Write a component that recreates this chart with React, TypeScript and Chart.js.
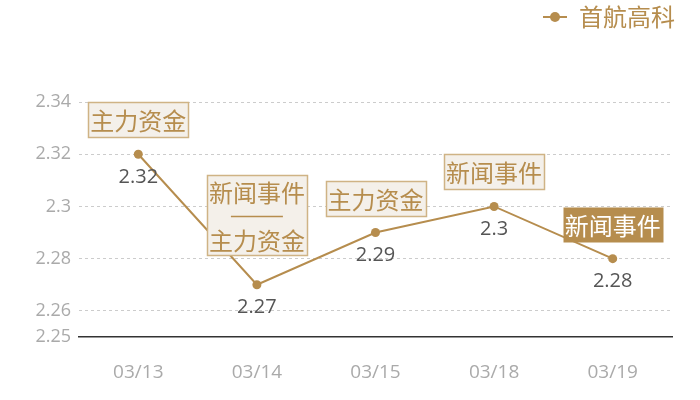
import React, { useEffect, useRef } from "react";
import { Chart, registerables } from "chart.js";

Chart.register(...registerables);

const categories = ["03/13", "03/14", "03/15", "03/18", "03/19"];
const seriesName = "首航高科";
const values = [2.32, 2.27, 2.29, 2.3, 2.28];
const eventLabels: string[][] = [
  ["主力资金"],
  ["新闻事件", "主力资金"],
  ["主力资金"],
  ["新闻事件"],
  ["新闻事件"],
];
const highlighted = [false, false, false, false, true];
const yTicks = [2.25, 2.26, 2.28, 2.3, 2.32, 2.34];

const GOLD = "#b68d4e";
const BOX_FILL = "#f4f0ea";
const BOX_BORDER = "#cfb385";
const NUM_FONT = '"Open Sans", "Noto Sans CJK SC", sans-serif';
const CJK_FONT = '"Noto Sans CJK SC", "Open Sans", sans-serif';
const LEGEND_MARK_W = 24;

const legendSpacer = {
  id: "legendSpacer",
  beforeInit(chart: any) {
    const legend = chart.legend;
    if (!legend) return;
    const origFit = legend.fit;
    legend.fit = function () {
      origFit.call(this);
      this.height += 58;
    };
  },
  afterLayout(chart: any) {
    const legend = chart.legend;
    if (legend) {
      legend.right += 13;
      legend.top -= 5;
      legend.bottom -= 5;
    }
  },
};

const decorations = {
  id: "decorations",
  afterDatasetsDraw(chart: any) {
    const ctx = chart.ctx;
    const meta = chart.getDatasetMeta(0);
    ctx.save();
    meta.data.forEach((pt: any, i: number) => {
      const x = pt.x;
      const y = pt.y;
      // value label
      ctx.font = `20px ${NUM_FONT}`;
      ctx.fillStyle = "#555555";
      ctx.textAlign = "center";
      ctx.textBaseline = "middle";
      ctx.fillText(String(values[i]), x, y + 23);

      // event box
      const lines = eventLabels[i];
      const fontSize = 24;
      const lineH = 24;
      ctx.font = `${fontSize}px ${CJK_FONT}`;
      const textW = Math.max(...lines.map((l) => ctx.measureText(l).width));
      const boxW = textW + 4;
      const nRows = lines.length === 1 ? 1 : lines.length * 2 - 1;
      const boxH = nRows * lineH + (lines.length === 1 ? 11 : 8);
      const gap = lines.length === 1 ? 17 : 30;
      const bx = Math.round(x - boxW / 2) + 0.5;
      const by = Math.round(y - gap - boxH) + 0.5;
      const hl = highlighted[i];
      ctx.fillStyle = hl ? GOLD : BOX_FILL;
      ctx.fillRect(bx, by, boxW, boxH);
      if (!hl) {
        ctx.strokeStyle = BOX_BORDER;
        ctx.lineWidth = 1.5;
        ctx.strokeRect(bx, by, boxW, boxH);
      }
      ctx.fillStyle = hl ? "#ffffff" : GOLD;
      ctx.strokeStyle = hl ? "#ffffff" : GOLD;
      const startY = by + boxH / 2 - ((nRows - 1) * lineH) / 2;
      let row = 0;
      lines.forEach((line, li) => {
        if (li > 0) {
          const sy = Math.round(startY + row * lineH) + 0.5;
          ctx.lineWidth = 1.5;
          ctx.beginPath();
          ctx.moveTo(x - 26, sy);
          ctx.lineTo(x + 26, sy);
          ctx.stroke();
          row++;
        }
        ctx.fillText(line, x, startY + row * lineH + 1);
        row++;
      });
    });
    ctx.restore();
  },
  afterDraw(chart: any) {
    const ctx = chart.ctx;
    const legend = chart.legend;
    if (legend && legend.legendHitBoxes && legend.legendHitBoxes.length) {
      const hb = legend.legendHitBoxes[0];
      const cy = hb.top + hb.height / 2;
      ctx.save();
      ctx.strokeStyle = GOLD;
      ctx.lineWidth = 2;
      ctx.beginPath();
      ctx.moveTo(hb.left, cy);
      ctx.lineTo(hb.left + LEGEND_MARK_W, cy);
      ctx.stroke();
      ctx.fillStyle = GOLD;
      ctx.beginPath();
      ctx.arc(hb.left + LEGEND_MARK_W / 2, cy, 5, 0, Math.PI * 2);
      ctx.fill();
      ctx.restore();
    }
  },
};

export default function App() {
  const canvasRef = useRef<HTMLCanvasElement | null>(null);

  useEffect(() => {
    document.body.style.margin = "0";
    if (!canvasRef.current) return;
    const chart = new Chart(canvasRef.current, {
      type: "line",
      data: {
        labels: categories,
        datasets: [
          {
            label: seriesName,
            data: values,
            borderColor: GOLD,
            backgroundColor: GOLD,
            borderWidth: 2,
            pointRadius: 4.5,
            pointBackgroundColor: GOLD,
            pointBorderColor: GOLD,
            pointBorderWidth: 0,
            tension: 0,
          },
        ],
      },
      options: {
        animation: false,
        responsive: true,
        maintainAspectRatio: false,
        layout: { padding: { left: 0, right: 28, top: 0, bottom: 0 } },
        plugins: {
          tooltip: { enabled: false },
          legend: {
            display: true,
            position: "top",
            align: "end",
            labels: {
              usePointStyle: true,
              pointStyle: "line",
              pointStyleWidth: LEGEND_MARK_W,
              boxHeight: 20,
              color: GOLD,
              font: { size: 24, family: CJK_FONT },
              padding: 10,
              generateLabels: (chart: any) =>
                chart.data.datasets.map((ds: any, i: number) => ({
                  text: ds.label,
                  fillStyle: "rgba(0,0,0,0)",
                  strokeStyle: "rgba(0,0,0,0)",
                  lineWidth: 0,
                  pointStyle: "line",
                  fontColor: GOLD,
                  hidden: false,
                  datasetIndex: i,
                })),
            },
          },
        },
        scales: {
          x: {
            type: "category",
            offset: true,
            afterFit: (scale: any) => {
              scale.height = 63;
            },
            grid: { display: false, drawTicks: false },
            border: { display: true, color: "#333333", width: 1.5 },
            ticks: {
              color: "#aaaaaa",
              font: { size: 19, family: NUM_FONT },
              padding: 24,
              maxRotation: 0,
            },
          },
          y: {
            min: 2.25,
            max: 2.34,
            afterBuildTicks: (scale: any) => {
              scale.ticks = yTicks.map((v) => ({ value: v }));
            },
            afterFit: (scale: any) => {
              scale.width = 79;
            },
            grid: {
              drawTicks: false,
              color: (c: any) => (c.tick && c.tick.value === yTicks[0] ? "rgba(0,0,0,0)" : "#cccccc"),
              lineWidth: 1,
            },
            border: { display: false, dash: [3, 3] },
            ticks: {
              color: "#aaaaaa",
              font: { size: 18, family: NUM_FONT },
              padding: 8,
              callback: (v: any) => String(Number(v)),
            },
          },
        },
      },
      plugins: [legendSpacer, decorations],
    });
    return () => chart.destroy();
  }, []);

  return (
    <div style={{ position: "fixed", left: 0, top: 0, width: 700, height: 400 }}>
      <canvas ref={canvasRef} />
    </div>
  );
}
